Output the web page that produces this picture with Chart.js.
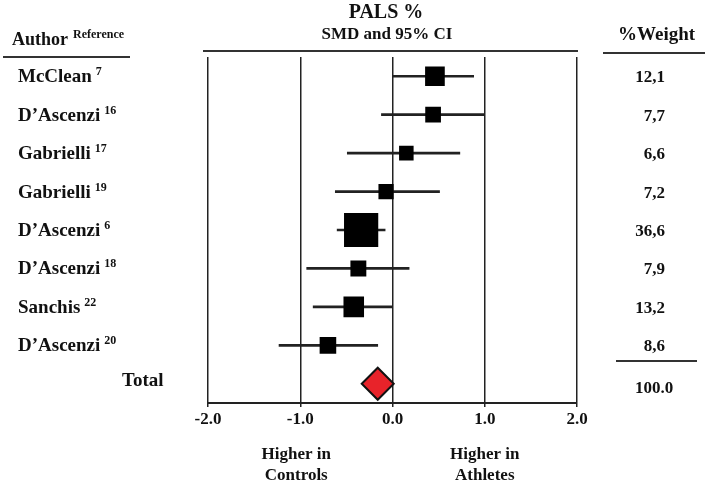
<!DOCTYPE html>
<html>
<head>
<meta charset="utf-8">
<script src="https://cdn.jsdelivr.net/npm/chart.js@4"></script>
<style>
  body { margin: 0; background: #fff; }
  #forest { display: block; }
</style>
</head>
<body>
<canvas id="forest" width="709" height="482"></canvas>
<script>
// datos del forest plot (PALS %)
const authors = ["McClean", "D\u2019Ascenzi", "Gabrielli", "Gabrielli", "D\u2019Ascenzi", "D\u2019Ascenzi", "Sanchis", "D\u2019Ascenzi"];
const refs = ["7", "16", "17", "19", "6", "18", "22", "20"];
const smd = [0.46, 0.44, 0.15, -0.07, -0.34, -0.37, -0.42, -0.70];
const ciLow = [0.0, -0.12, -0.49, -0.62, -0.60, -0.93, -0.86, -1.23];
const ciHigh = [0.88, 0.99, 0.73, 0.51, -0.08, 0.18, 0.0, -0.16];
const weights = [12.1, 7.7, 6.6, 7.2, 36.6, 7.9, 13.2, 8.6];
const totalSmd = -0.16;
const totalWeight = "100.0";
const xTicks = [-2, -1, 0, 1, 2];

const rows = authors.map((a, i) => a + " " + refs[i]);
const rowLabels = rows.concat(["Total"]);

const serif = "'Liberation Serif', 'Times New Roman', serif";
const ink = "#111";

// textos y líneas alrededor del gráfico
const forestText = {
  id: "forestText",
  afterDraw(chart) {
    const ctx = chart.ctx;
    const yScale = chart.scales.y;
    ctx.save();
    ctx.fillStyle = ink;
    ctx.strokeStyle = "#333";
    ctx.lineWidth = 2;
    ctx.textBaseline = "alphabetic";

    // cabeceras
    ctx.textAlign = "center";
    ctx.font = "bold 20px " + serif;
    ctx.fillText("PALS %", 386, 18);
    ctx.font = "bold 17px " + serif;
    ctx.fillText("SMD and 95% CI", 387, 39);

    ctx.textAlign = "left";
    ctx.font = "bold 18px " + serif;
    ctx.fillText("Author", 12, 45);
    ctx.font = "bold 12px " + serif;
    ctx.fillText("Reference", 73, 38);
    ctx.font = "bold 19px " + serif;
    ctx.fillText("%Weight", 618, 40);

    ctx.beginPath();
    ctx.moveTo(3, 57); ctx.lineTo(130, 57);
    ctx.moveTo(203, 51); ctx.lineTo(578, 51);
    ctx.moveTo(603, 53); ctx.lineTo(705, 53);
    ctx.moveTo(616, 361); ctx.lineTo(697, 361);
    ctx.stroke();

    // filas
    authors.forEach((a, i) => {
      const y = yScale.getPixelForValue(i);
      ctx.textAlign = "left";
      ctx.font = "bold 19px " + serif;
      ctx.fillText(a, 18, y + 6);
      const w = ctx.measureText(a).width;
      ctx.font = "bold 12px " + serif;
      ctx.fillText(refs[i], 18 + w + 4, y - 1);
      ctx.textAlign = "right";
      ctx.font = "bold 17px " + serif;
      ctx.fillText(weights[i].toFixed(1).replace(".", ","), 665, y + 6);
    });

    const yT = yScale.getPixelForValue(authors.length);
    ctx.textAlign = "left";
    ctx.font = "bold 19px " + serif;
    ctx.fillText("Total", 122, yT + 2);
    ctx.font = "bold 17px " + serif;
    ctx.fillText(totalWeight, 635, yT + 9);

    // etiquetas bajo el eje
    const xScale = chart.scales.x;
    ctx.textAlign = "center";
    ctx.font = "bold 17px " + serif;
    const xl = (xScale.getPixelForValue(-1.5) + xScale.getPixelForValue(-0.5)) / 2;
    const xr = (xScale.getPixelForValue(0.5) + xScale.getPixelForValue(1.5)) / 2;
    ctx.fillText("Higher in", xl - 4, 459);
    ctx.fillText("Controls", xl - 4, 480);
    ctx.fillText("Higher in", xr, 459);
    ctx.fillText("Athletes", xr, 480);
    ctx.restore();
  }
};

new Chart(document.getElementById("forest"), {
  data: {
    labels: rowLabels,
    datasets: [
      {
        type: "scatter",
        order: 0,
        data: smd.map((v, i) => ({ x: v, y: rows[i] })),
        pointStyle: "rect",
        pointRadius: (c) => 4.0 * Math.sqrt(weights[c.dataIndex] || 0),
        backgroundColor: "#000",
        borderWidth: 0,
      },
      {
        type: "scatter",
        order: 0,
        data: [{ x: totalSmd, y: "Total" }],
        pointStyle: "rectRot",
        pointRadius: 16,
        backgroundColor: "#e8232a",
        borderColor: ink,
        borderWidth: 2,
      },
      {
        type: "bar",
        order: 2,
        indexAxis: "y",
        data: ciLow.map((lo, i) => [lo, ciHigh[i]]),
        backgroundColor: "#222",
        barThickness: 2,
        grouped: false,
      },
    ],
  },
  options: {
    responsive: false,
    animation: false,
    layout: { padding: { left: 208, right: 132, top: 57, bottom: 49 } },
    plugins: { legend: { display: false }, tooltip: { enabled: false } },
    scales: {
      x: {
        type: "linear",
        min: -2,
        max: 2,
        afterBuildTicks: (s) => { s.ticks = xTicks.map((v) => ({ value: v })); },
        afterFit: (s) => { s.height = 30; },
        grid: { color: "#222", lineWidth: 1.5, tickLength: 4 },
        border: { color: "#222", width: 2 },
        ticks: {
          color: ink,
          padding: 2,
          font: { family: serif, size: 17, weight: "bold" },
          callback: (v) => Number(v).toFixed(1),
        },
      },
      y: {
        type: "category",
        offset: true,
        display: false,
      },
    },
  },
  plugins: [forestText],
});
</script>
</body>
</html>
